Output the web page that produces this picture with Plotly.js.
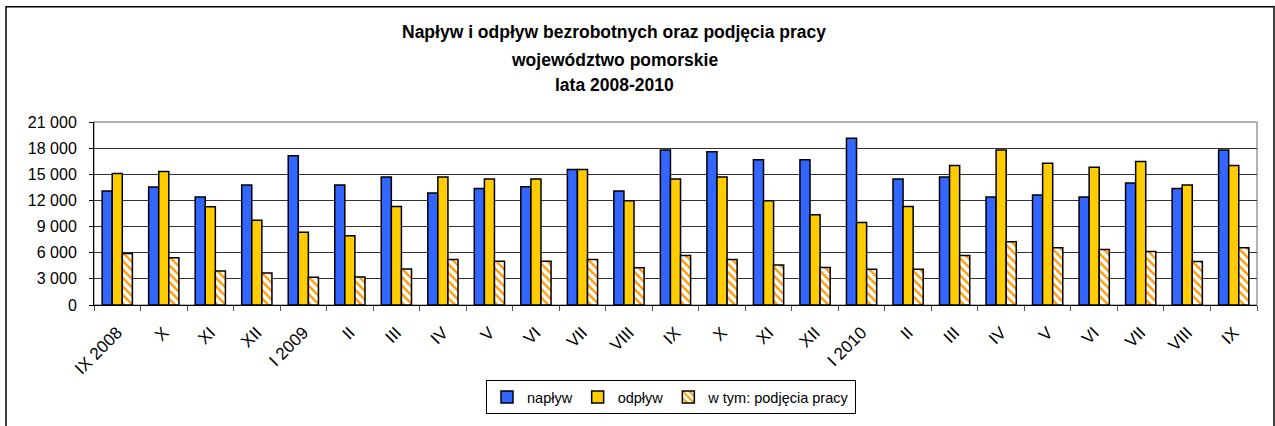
<!DOCTYPE html>
<html>
<head>
<meta charset="utf-8">
<script src="https://cdn.plot.ly/plotly-3.0.1.min.js"></script>
<style>
  html, body { margin: 0; padding: 0; background: #fff; }
  #chart { width: 1275px; height: 426px; }
</style>
</head>
<body>
<div id="chart"></div>
<script>
const monthKeys = ["2008-09","2008-10","2008-11","2008-12","2009-01","2009-02","2009-03","2009-04","2009-05","2009-06","2009-07","2009-08","2009-09","2009-10","2009-11","2009-12","2010-01","2010-02","2010-03","2010-04","2010-05","2010-06","2010-07","2010-08","2010-09"];
const tickLabels = ["IX 2008","X","XI","XII","I 2009","II","III","IV","V","VI","VII","VIII","IX","X","XI","XII","I 2010","II","III","IV","V","VI","VII","VIII","IX"];
const naplyw = [13090,13540,12400,13770,17140,13770,14680,12860,13360,13580,15550,13090,17780,17590,16680,16680,19140,14450,14680,12400,12630,12400,13990,13360,17780];
const odplyw = [15100,15320,11270,9720,8360,7950,11310,14680,14450,14450,15550,11950,14450,14680,11950,10370,9460,11310,16000,17780,16260,15810,16460,13770,16000];
const podjecia = [5900,5410,3900,3670,3180,3200,4120,5220,5030,5030,5220,4280,5680,5220,4580,4310,4090,4090,5680,7260,6580,6360,6130,4990,6580];
const yTicks = [0,3000,6000,9000,12000,15000,18000,21000];

const W = 1275, H = 426;
const L = 94, R = 18, T = 122, B = 119;
const pw = W - L - R, ph = H - T - B;
const px = v => (v - L) / pw;
const py = v => (H - B - v) / ph;

const font = "Liberation Sans, Arial, sans-serif";

const traces = [
  {type: "bar", name: "napływ", x: monthKeys, y: naplyw,
   marker: {color: "#3366FF", line: {color: "#000", width: 1.5}}},
  {type: "bar", name: "odpływ", x: monthKeys, y: odplyw,
   marker: {color: "#FFCC00", line: {color: "#000", width: 1.5}}},
  {type: "bar", name: "w tym: podjęcia pracy", x: monthKeys, y: podjecia,
   marker: {color: "#FFFFFF", line: {color: "#000", width: 1.5},
            pattern: {shape: "\\", fgcolor: "#FF9900", bgcolor: "#FFFFFF", size: 6, solidity: 0.4}}}
];

const titleFont = {family: font, size: 17.5, color: "#000"};

const layout = {
  width: W, height: H,
  margin: {l: L, r: R, t: T, b: B, pad: 0},
  paper_bgcolor: "#fff", plot_bgcolor: "#fff",
  separators: ", ",
  font: {family: font, size: 15, color: "#000"},
  barmode: "group", bargap: 0.35, bargroupgap: 0,
  showlegend: true,
  hovermode: false,
  title: {text: "<b>Napływ i odpływ bezrobotnych oraz podjęcia pracy</b>",
          font: titleFont,
          xref: "paper", x: px(614), xanchor: "center",
          yref: "container", y: 1 - 32 / H, yanchor: "middle"},
  annotations: [
    {text: "<b>województwo pomorskie</b>", xref: "paper", yref: "paper",
     x: px(614), y: py(59), xanchor: "center", yanchor: "middle", showarrow: false,
     font: titleFont},
    {text: "<b>lata 2008-2010</b>", xref: "paper", yref: "paper",
     x: px(614), y: py(85), xanchor: "center", yanchor: "middle", showarrow: false,
     font: titleFont}
  ],
  xaxis: {type: "category", tickmode: "array", tickvals: monthKeys, ticktext: tickLabels,
          tickson: "boundaries", ticks: "outside", ticklen: 5, tickcolor: "#555", tickwidth: 1,
          tickangle: -45, ticklabelstandoff: 10, showline: true, linecolor: "#000", linewidth: 1,
          showgrid: false, zeroline: false, fixedrange: true,
          tickfont: {family: font, size: 17, color: "#000"}},
  yaxis: {range: [0, 21000], tickmode: "array", tickvals: yTicks, tickformat: ",d",
          ticks: "outside", ticklen: 4, tickcolor: "#000", ticklabelstandoff: 9,
          showline: true, linecolor: "#000", linewidth: 1,
          showgrid: true, gridcolor: "#333333", gridwidth: 1, zeroline: false, fixedrange: true,
          tickfont: {family: font, size: 16, color: "#000"}},
  legend: {orientation: "h", x: px(671), xanchor: "center", y: py(383), yanchor: "top",
           bordercolor: "#000", borderwidth: 1, bgcolor: "#fff",
           font: {family: font, size: 14.5, color: "#000"}, itemwidth: 30, tracegroupgap: 0},
  shapes: [
    {type: "rect", xref: "paper", yref: "paper", x0: 0, x1: 1, y0: 0, y1: 1,
     line: {color: "#9a9a9a", width: 1.5}, layer: "below"},
    {type: "rect", xref: "paper", yref: "paper", x0: px(6), x1: px(1274), y0: py(5.5), y1: py(440),
     line: {color: "#000", width: 1.5}, layer: "below"}
  ]
};

Plotly.newPlot("chart", traces, layout, {displayModeBar: false, staticPlot: true});
</script>
</body>
</html>
